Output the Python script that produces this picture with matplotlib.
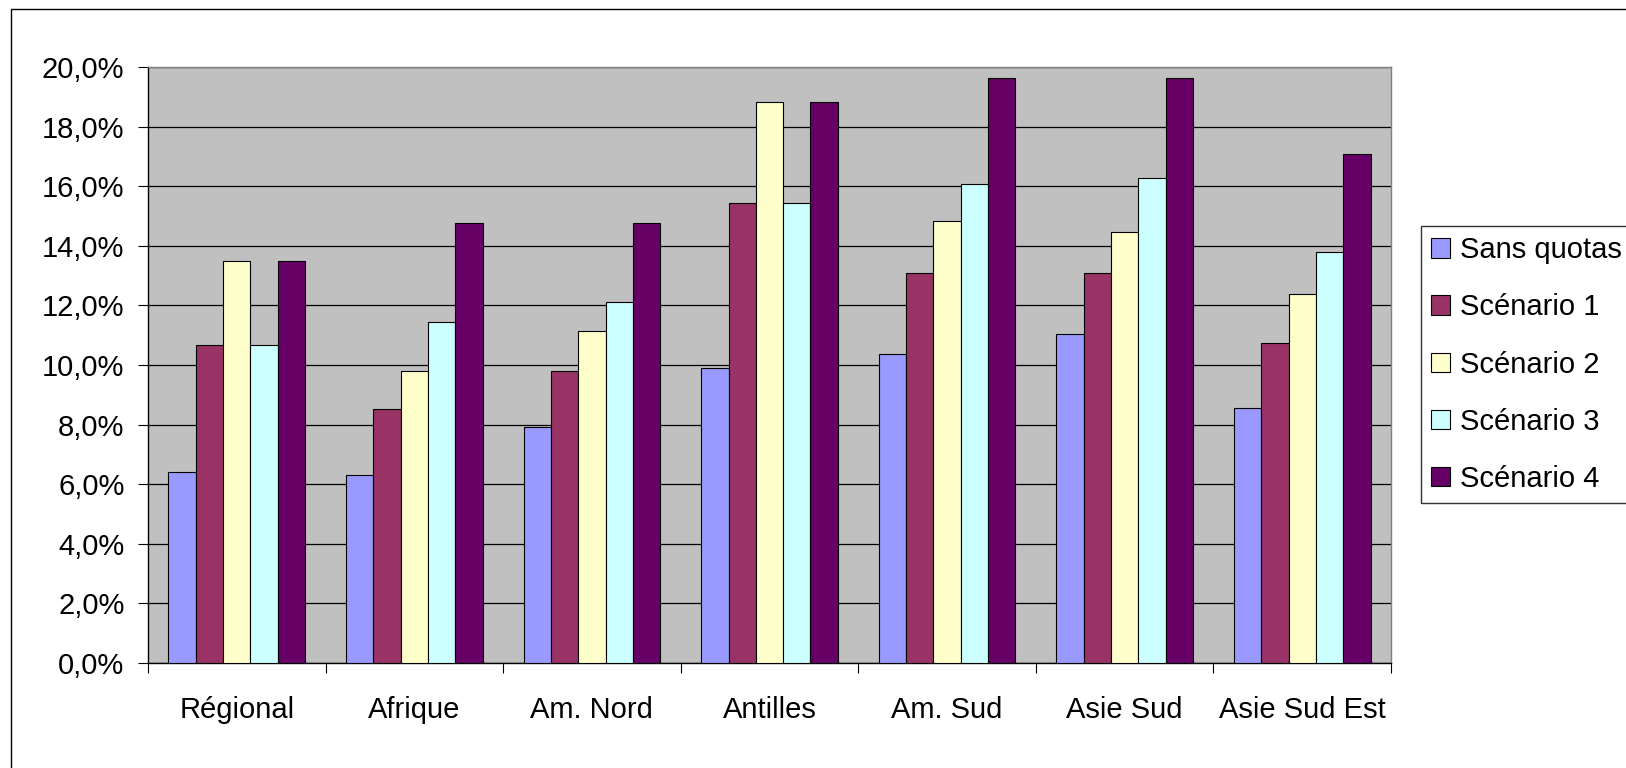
import numpy as np
import matplotlib
matplotlib.use("Agg")
import matplotlib.pyplot as plt
from matplotlib.patches import Rectangle
from matplotlib.ticker import FuncFormatter, MultipleLocator

plt.rcParams['font.family'] = ['Liberation Sans', 'DejaVu Sans']

# Valeurs (en %) par région et par scénario
regions = ["Régional", "Afrique", "Am. Nord", "Antilles", "Am. Sud", "Asie Sud", "Asie Sud Est"]
series = ["Sans quotas", "Scénario 1", "Scénario 2", "Scénario 3", "Scénario 4"]
sans_quotas = [6.40, 6.30, 7.91, 9.89, 10.36, 11.04, 8.57]
scenario_1 = [10.67, 8.53, 9.80, 15.42, 13.09, 13.09, 10.75]
scenario_2 = [13.49, 9.80, 11.13, 18.84, 14.84, 14.47, 12.37]
scenario_3 = [10.67, 11.45, 12.10, 15.42, 16.09, 16.29, 13.79]
scenario_4 = [13.49, 14.75, 14.76, 18.84, 19.62, 19.62, 17.08]
colors = ["#9999FF", "#993366", "#FFFFCC", "#CCFFFF", "#660066"]

values = [sans_quotas, scenario_1, scenario_2, scenario_3, scenario_4]

W, H = 1626, 768
fig = plt.figure(figsize=(W / 100, H / 100), dpi=100)
ax = fig.add_axes([148 / W, 1 - 663 / H, (1391 - 148) / W, (663 - 67) / H])
ax.set_facecolor("#C0C0C0")

# cadre extérieur du graphique
fig.patches.append(Rectangle((11 / W, -0.1), 1.2, 1 - 9 / H + 0.1, transform=fig.transFigure,
                             fill=False, edgecolor="black", linewidth=1.0))

x = np.arange(len(regions))
n = len(series)
bw = 1 / (n + 1.5)
for i, (name, vals, c) in enumerate(zip(series, values, colors)):
    offs = (i - (n - 1) / 2) * bw
    ax.bar(x + offs, vals, width=bw, color=c, edgecolor="black", linewidth=0.8,
           label=name, zorder=3)

ax.set_xlim(-0.5, len(regions) - 0.5)
ax.set_ylim(0, 20)
ax.yaxis.set_major_locator(MultipleLocator(2))
ax.yaxis.set_major_formatter(FuncFormatter(lambda v, p: f"{v:.1f}%".replace(".", ",")))
ax.grid(axis="y", color="black", linewidth=0.9, zorder=1)
ax.set_axisbelow(True)

ax.set_xticks(x)
ax.set_xticklabels(regions)
ax.set_xticks(np.arange(-0.5, len(regions)), minor=True)
ax.tick_params(axis="x", which="major", length=0, pad=24, labelsize=21)
ax.tick_params(axis="x", which="minor", length=7, width=0.8, color="black")
ax.tick_params(axis="y", length=7, width=0.8, pad=10, labelsize=21)

for s in ["top", "right"]:
    ax.spines[s].set_color("#808080")
    ax.spines[s].set_linewidth(1.0)
for s in ["left", "bottom"]:
    ax.spines[s].set_color("black")
    ax.spines[s].set_linewidth(1.0)

leg = fig.legend(loc="upper left", bbox_to_anchor=(1421 / W, 1 - 226 / H),
                 fontsize=21, frameon=True, fancybox=False, edgecolor="black",
                 handlelength=0.65, handleheight=0.65, handletextpad=0.35,
                 borderpad=0.35, labelspacing=1.0, borderaxespad=0)
leg.get_frame().set_linewidth(1.0)

fig.savefig("out.png", dpi=100)
